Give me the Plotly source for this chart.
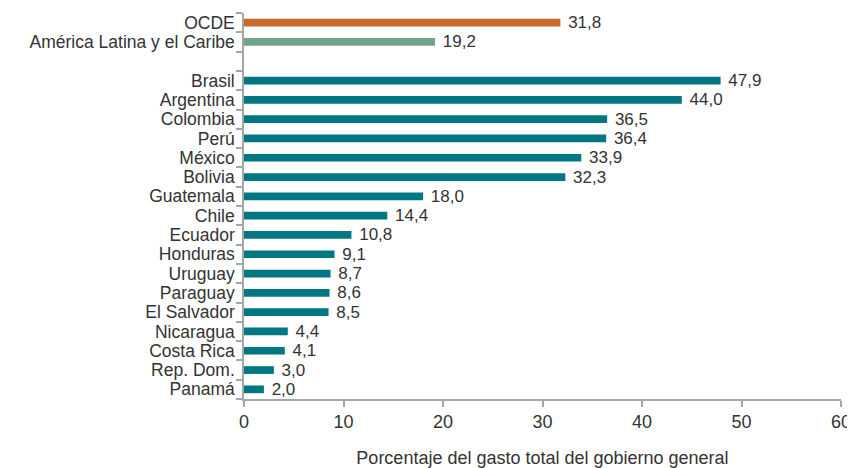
import plotly.graph_objects as go

categories = ["OCDE", "América Latina y el Caribe", " ",
              "Brasil", "Argentina", "Colombia", "Perú", "México", "Bolivia",
              "Guatemala", "Chile", "Ecuador", "Honduras", "Uruguay", "Paraguay",
              "El Salvador", "Nicaragua", "Costa Rica", "Rep. Dom.", "Panamá"]
values = [31.8, 19.2, None,
          47.9, 44.0, 36.5, 36.4, 33.9, 32.3,
          18.0, 14.4, 10.8, 9.1, 8.7, 8.6,
          8.5, 4.4, 4.1, 3.0, 2.0]
groups = ["ocde", "alc", "none"] + ["pais"] * 17
x_ticks = [0, 10, 20, 30, 40, 50, 60]
x_title = "Porcentaje del gasto total del gobierno general"

color_map = {"ocde": "#C8692B", "alc": "#70A58C", "pais": "#007782", "none": "rgba(0,0,0,0)"}
colors = [color_map[g] for g in groups]
texts = ["" if v is None else " " + f"{v:.1f}".replace(".", ",") for v in values]

FONT = "Liberation Sans, Arial, sans-serif"

fig = go.Figure(go.Bar(
    x=values, y=categories, orientation="h",
    marker=dict(color=colors, line=dict(width=0)),
    text=texts, textposition="outside", cliponaxis=False,
    constraintext="none",
    textfont=dict(family=FONT, size=17, color="#333333"),
    width=0.4,
))

# page has an 8px body margin, so the figure is 8px smaller on each axis
fig.update_layout(
    width=847, height=460,
    margin=dict(l=236, r=14, t=5, b=69, autoexpand=False),
    paper_bgcolor="white", plot_bgcolor="white",
    showlegend=False,
    font=dict(family=FONT, size=17, color="#333333"),
)
fig.update_xaxes(
    range=[0, 60], tickvals=x_ticks, ticktext=[str(t) for t in x_ticks],
    showgrid=False, zeroline=False,
    showline=True, linecolor="#A6A6A6", linewidth=1.5,
    ticks="outside", ticklen=6, tickcolor="#A6A6A6", tickwidth=1.5,
    ticklabeloverflow="allow",
    tickfont=dict(family=FONT, size=18, color="#333333"),
    title=dict(text=x_title, font=dict(family=FONT, size=18, color="#333333"), standoff=20),
)
fig.update_yaxes(
    type="category", categoryorder="array", categoryarray=categories,
    tickmode="array", tickvals=categories, ticktext=categories,
    autorange="reversed",
    showgrid=False, zeroline=False,
    showline=True, linecolor="#A6A6A6", linewidth=1.5,
    ticks="outside", tickson="boundaries", ticklen=6, tickcolor="#A6A6A6", tickwidth=1.5,
    tickfont=dict(family=FONT, size=17.5, color="#333333"),
    ticklabelstandoff=4,
)

fig.write_html("out.html")
